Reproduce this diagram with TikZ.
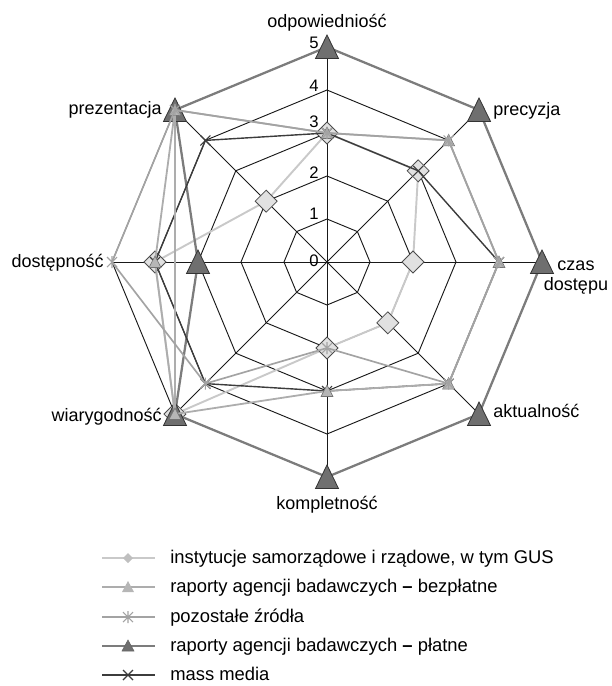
\documentclass[tikz,border=0pt]{standalone}
\usepackage{fontspec}
\setmainfont{Liberation Sans}
\definecolor{insgray}{HTML}{C9C9C9}
\definecolor{insfill}{HTML}{E1E1E1}
\definecolor{bezgray}{HTML}{ADADAD}
\definecolor{bezfill}{HTML}{B6B6B6}
\definecolor{pozgray}{HTML}{A3A3A3}
\definecolor{plagray}{HTML}{7C7C7C}
\definecolor{plafill}{HTML}{6F6F6F}
\definecolor{mmgray}{HTML}{3C3C3C}
\definecolor{edgegray}{HTML}{4C4C4C}
% radar points of one series: name, then the eight values (clockwise from the top axis)
\newcommand\radarpts[2]{\foreach \v [count=\k from 0] in {#2} {\coordinate (#1\k) at ({90-45*\k}:{\v*43});}}
\newcommand\radarloop[1]{(#10) -- (#11) -- (#12) -- (#13) -- (#14) -- (#15) -- (#16) -- (#17) -- cycle}
\begin{document}
\begin{tikzpicture}[x=0.75pt,y=0.75pt,
  gridline/.style={draw=black!90, line width=0.7pt},
  insline/.style={draw=insgray, line width=1.45pt, line join=round},
  bezline/.style={draw=bezgray, line width=1.35pt, line join=round},
  pozline/.style={draw=pozgray, line width=1.25pt, line join=round},
  plaline/.style={draw=plagray, line width=1.7pt, line join=round},
  mmline/.style={draw=mmgray, line width=1.05pt, line join=round},
  lbl/.style={font=\fontsize{13.5}{15}\selectfont, inner sep=0pt},
  ticklbl/.style={font=\fontsize{12.5}{14}\selectfont, inner sep=0pt, anchor=south east},
  legtxt/.style={font=\fontsize{13.8}{16}\selectfont, inner sep=0pt, anchor=base west},
  pics/dmark/.style={code={\draw[fill=insfill, draw=edgegray, line width=0.55pt] (0,11) -- (11,0) -- (0,-11) -- (-11,0) -- cycle;}},
  pics/bigtri/.style={code={\draw[fill=plafill, draw=black!80, line width=0.6pt] (-11.5,-11.5) -- (11.5,-11.5) -- (0,12) -- cycle;}},
  pics/smalltri/.style={code={\draw[fill=bezfill, draw=black!55, line width=0.45pt] (-6,-5.5) -- (6,-5.5) -- (0,6) -- cycle;}},
  pics/astmark/.style={code={\draw[draw=pozgray, line width=0.8pt] (-5,-5) -- (5,5) (-5,5) -- (5,-5) (0,-6) -- (0,6);}},
  pics/xmark/.style={code={\draw[draw=mmgray, line width=0.8pt] (-5,-5) -- (5,5) (-5,5) -- (5,-5);}},
  pics/legdiam/.style={code={\fill[insfill!85!black] (0,5) -- (5,0) -- (0,-5) -- (-5,0) -- cycle;}},
  pics/legtrilight/.style={code={\fill[bezfill] (-6,-5) -- (6,-5) -- (0,6) -- cycle;}},
  pics/legtridark/.style={code={\draw[fill=plafill, draw=black!60, line width=0.4pt] (-6,-5) -- (6,-5) -- (0,6) -- cycle;}},
  pics/legast/.style={code={\draw[draw=pozgray, line width=0.8pt] (-5,-5) -- (5,5) (-5,5) -- (5,-5) (0,-6) -- (0,6);}},
  pics/legx/.style={code={\draw[draw=mmgray, line width=0.9pt] (-5,-5) -- (5,5) (-5,5) -- (5,-5);}}
]
\useasboundingbox (0,0) rectangle (611,-686);

\begin{scope}[shift={(327,-262)}]
  \coordinate (O) at (0,0);
  % octagonal rings and spokes
  \foreach \r in {1,...,5} {
    \draw[gridline, line join=miter] ({90}:{\r*43}) -- ({45}:{\r*43}) -- ({0}:{\r*43}) -- ({-45}:{\r*43})
      -- ({-90}:{\r*43}) -- ({-135}:{\r*43}) -- ({180}:{\r*43}) -- ({135}:{\r*43}) -- cycle;
  }
  \foreach \k in {0,...,7} {
    \coordinate (axis\k) at ({90-45*\k}:215);
    \draw[gridline] (O) -- (axis\k);
  }

  % data points
  \radarpts{ins}{3,3,2,2,2,5,4,2}
  \radarpts{bez}{3,4,4,4,3,5,4,5}
  \radarpts{poz}{3,4,4,4,2,4,5,5}
  \radarpts{pla}{5,5,5,5,5,5,3,5}
  \radarpts{mm}{3,3,4,4,3,4,4,4}

  % instytucje
  \draw[insline] \radarloop{ins};
  \foreach \k in {0,...,7} \pic at (ins\k) {dmark};
  % raporty platne
  \draw[plaline] \radarloop{pla};
  \foreach \k in {0,...,7} \pic at (pla\k) {bigtri};
  % mass media
  \draw[mmline] \radarloop{mm};
  \foreach \k in {0,...,7} \pic at (mm\k) {xmark};
  % raporty bezplatne, with the straight link from prezentacja to wiarygodnosc
  \draw[bezline] \radarloop{bez};
  \draw[bezline] (bez7) -- (bez5);
  \foreach \k in {0,...,7} \pic at (bez\k) {smalltri};
  % pozostale zrodla
  \draw[pozline] \radarloop{poz};
  \foreach \k in {0,...,7} \pic at (poz\k) {astmark};
\end{scope}

% scale values
\node[ticklbl] (t0) at (319,-267) {0};
\node[ticklbl] (t1) at (319,-220) {1};
\node[ticklbl] (t2) at (319,-179) {2};
\node[ticklbl] (t3) at (319,-128) {3};
\node[ticklbl] (t4) at (319,-92) {4};
\node[ticklbl] (t5) at (319,-49) {5};

% axis names
\node[lbl, anchor=base] (l0) at (327,-27) {odpowiedniość};
\node[lbl, anchor=base west] (l1) at (493,-115) {precyzja};
\node[lbl, anchor=base] (l2a) at (576,-270) {czas};
\node[lbl, anchor=base] (l2b) at (576,-290) {dostępu};
\node[lbl, anchor=base west] (l3) at (493,-417) {aktualność};
\node[lbl, anchor=base] (l4) at (327,-509) {kompletność};
\node[lbl, anchor=base east] (l5) at (162,-421) {wiarygodność};
\node[lbl, anchor=base east] (l6) at (104,-267) {dostępność};
\node[lbl, anchor=base east] (l7) at (162,-114) {prezentacja};

% legend
\coordinate (la1) at (102,-558); \coordinate (lb1) at (155,-558); \coordinate (lm1) at (128,-558);
\coordinate (la2) at (102,-587); \coordinate (lb2) at (155,-587); \coordinate (lm2) at (128,-587);
\coordinate (la3) at (102,-617); \coordinate (lb3) at (155,-617); \coordinate (lm3) at (128,-617);
\coordinate (la4) at (102,-646); \coordinate (lb4) at (155,-646); \coordinate (lm4) at (128,-646);
\coordinate (la5) at (102,-675); \coordinate (lb5) at (155,-675); \coordinate (lm5) at (128,-675);
\draw[insline] (la1) -- (lb1); \pic at (lm1) {legdiam};
\draw[bezline] (la2) -- (lb2); \pic at (lm2) {legtrilight};
\draw[pozline] (la3) -- (lb3); \pic at (lm3) {legast};
\draw[plaline] (la4) -- (lb4); \pic at (lm4) {legtridark};
\draw[mmline] (la5) -- (lb5); \pic at (lm5) {legx};
\node[legtxt] (g1) at (170,-563) {instytucje samorządowe i rządowe, w tym GUS};
\node[legtxt] (g2) at (170,-592) {raporty agencji badawczych \textbf{–} bezpłatne};
\node[legtxt] (g3) at (170,-622) {pozostałe źródła};
\node[legtxt] (g4) at (170,-651) {raporty agencji badawczych \textbf{–} płatne};
\node[legtxt] (g5) at (170,-680) {mass media};
\end{tikzpicture}
\end{document}
